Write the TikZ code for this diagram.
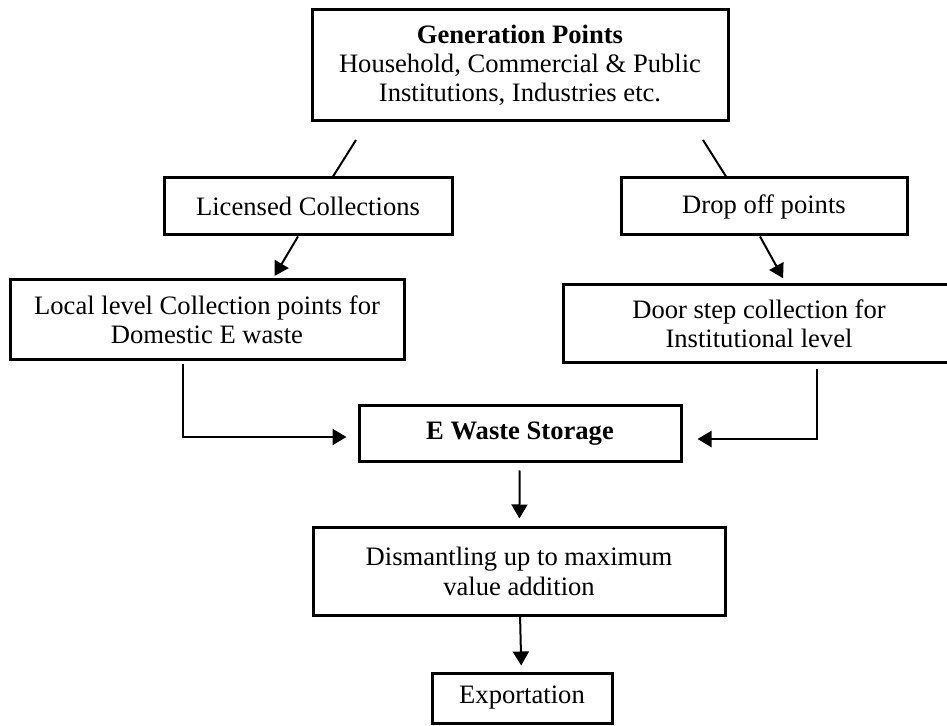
\documentclass[tikz,border=0pt]{standalone}
\usepackage{fontspec}
\setmainfont{Liberation Serif}
\usetikzlibrary{arrows.meta,calc}
\begin{document}
\begin{tikzpicture}[x=0.5pt,y=-0.5pt,
  box/.style={draw,line width=1.5pt,inner sep=0pt,align=center,
    font=\fontsize{13.3}{14.6}\selectfont},
  link/.style={line width=1pt},
  arr/.style={link,-{Triangle[length=7pt,width=8pt]}}]
  \useasboundingbox (0,0) rectangle (947,726);
  \node[box,minimum width=208pt,minimum height=55.5pt] (gen) at (520,65.5)
    {\textbf{Generation Points}\\Household, Commercial \& Public\\Institutions, Industries etc.};
  \node[box,minimum width=144pt,minimum height=28.5pt] (lic) at (308,206.5) {Licensed Collections};
  \node[box,minimum width=143pt,minimum height=28.5pt] (drop) at (764,206.5) {Drop off points};
  \node[box,minimum width=197pt,minimum height=40pt] (loc) at (207,320)
    {Local level Collection points for\\Domestic E waste};
  \node[box,minimum width=196pt,minimum height=39pt] (door) at (759,324)
    {Door step collection for\\Institutional level};
  \node[box,minimum width=161pt,minimum height=28pt] (ews) at (520,434) {\textbf{E Waste Storage}};
  \node[box,minimum width=206pt,minimum height=43.5pt] (dis) at (519,571.5)
    {Dismantling up to maximum\\value addition};
  \node[box,minimum width=90pt,minimum height=25pt] (exp) at (522,698) {Exportation};
  % free ends of the two slashes under the top box
  \coordinate (gl) at (356,140);
  \coordinate (gr) at (703,140);
  \draw[link] (gl) -- ($(lic.north)+(25,0)$);
  \draw[link] (gr) -- ($(drop.north)+(-38,0)$);
  \draw[arr,shorten >=1.5pt] ($(lic.south)+(-10,0)$) -- ($(loc.north)+(66,0)$);
  \draw[arr,shorten >=3pt] ($(drop.south)+(-4,0)$) -- ($(door.north)+(27,0)$);
  \draw[arr,shorten <=1.5pt] ($(loc.south)+(-24,0)$) |- ($(ews.west)+(-11,3)$);
  \draw[arr,shorten <=2.5pt] ($(door.south)+(58,0)$) |- ($(ews.east)+(15,5)$);
  \draw[arr,shorten <=3.5pt,shorten >=4pt] (ews) -- (dis);
  \draw[arr,shorten >=3pt] (dis) -- (exp);
\end{tikzpicture}
\end{document}
